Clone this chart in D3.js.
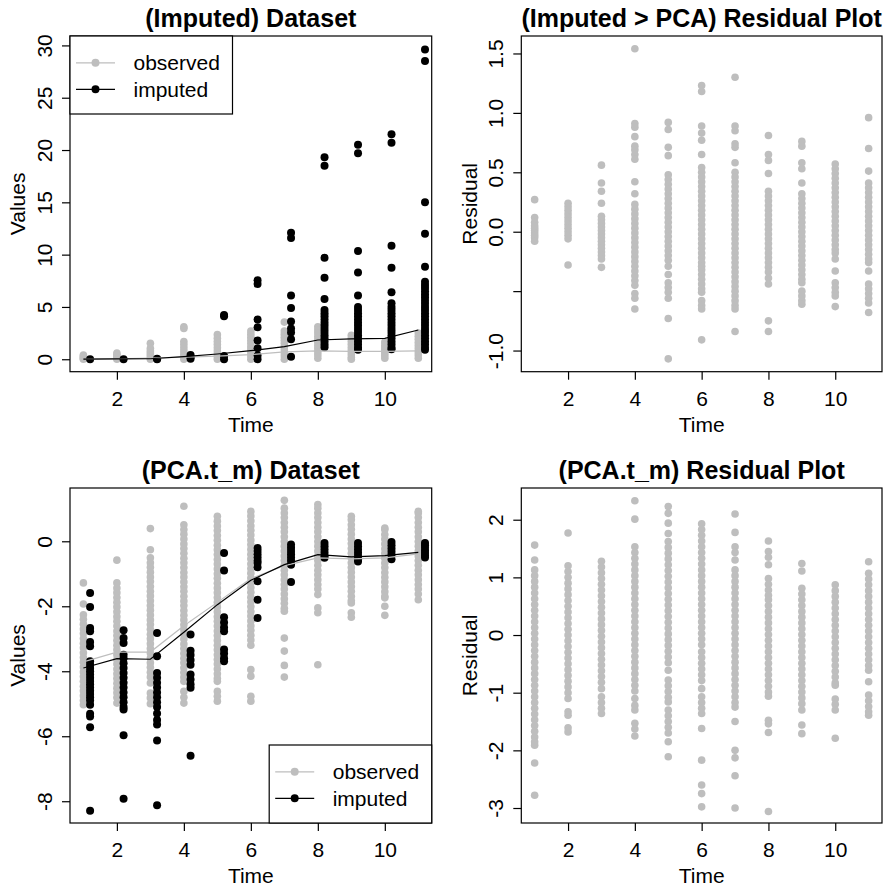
<!DOCTYPE html>
<html>
<head>
<meta charset="utf-8">
<script src="https://cdn.jsdelivr.net/npm/d3@7"></script>
<style>body{margin:0;background:#fff;}</style>
</head>
<body>
<script>
// time points and axis ticks
var timePoints = [1,2,3,4,5,6,7,8,9,10,11];
var xTicks = [2,4,6,8,10];
var imputedShift = 0.2;
var legendLabels = ["observed","imputed"];

// (Imputed) Dataset
var impObserved = [
  [0.0,0.1,0.2,0.3,0.4],
  [0.0,0.15,0.3,0.45,0.6],
  [1.53,1.05,0.8,0.6,0.4,0.2,0.0],
  [3.1,2.95,1.7,1.4,1.1,0.8,0.5,0.25,0.0],
  [2.35,2.0,1.7,1.4,1.1,0.8,0.5,0.25,0.0],
  [2.7,2.4,2.1,1.8,1.5,1.2,0.9,0.6,0.3,0.0],
  [3.55,2.7,2.4,2.1,1.8,1.5,1.2,0.9,0.6,0.3,0.0],
  [3.1,2.8,2.5,2.2,1.9,1.6,1.3,1.0,0.7,0.4,0.1],
  [2.3,2.0,1.7,1.4,1.1,0.8,0.5,0.2,0.0],
  [1.65,1.35,1.1,0.85,0.6,0.35,0.1],
  [2.5,2.2,1.9,1.6,1.3,1.0,0.7,0.4,0.1]
];
var impImputed = [
  [0.0],
  [0.0],
  [0.0,0.05],
  [0.4,0.2,0.05],
  [4.23,4.1,0.3,0.0],
  [7.55,7.2,3.8,3.05,1.8,1.05,0.35,0.0],
  [12.1,11.6,6.1,4.9,3.6,2.95,2.55,1.9,0.25],
  [19.3,18.5,9.7,7.8,5.75,4.7,4.4,4.1,3.8,3.5,3.2,2.9,2.6,2.3,2.0,1.7,1.4,1.15],
  [20.5,19.7,10.35,8.3,6.1,5.0,4.7,4.4,4.1,3.8,3.5,3.2,2.9,2.6,2.3,2.0,1.7,1.4,1.1,0.9],
  [21.5,20.7,10.85,8.75,6.4,5.35,5.0,4.7,4.4,4.1,3.8,3.5,3.2,2.9,2.6,2.3,2.0,1.7,1.4,1.1,0.95],
  [29.6,28.5,15.0,12.0,8.85,7.4,7.1,6.8,6.5,6.2,5.9,5.6,5.3,5.0,4.7,4.4,4.1,3.8,3.5,3.2,2.9,2.6,2.3,2.0,1.7,1.4,1.1,0.9]
];
var impObservedMean = [0.02,0.05,0.1,0.2,0.3,0.45,0.7,0.8,0.75,0.75,0.8];
var impImputedMean = [0.02,0.03,0.05,0.25,0.5,0.82,1.2,1.84,1.94,2.0,2.8];
var impYTicks = [0,5,10,15,20,25,30];
var impYLabels = ["0","5","10","15","20","25","30"];

// (Imputed > PCA) Residual Plot
var impResidual = [
  [0.27,0.12,0.08,0.05,0.03,0.01,-0.01,-0.03,-0.05,-0.08],
  [0.24,0.21,0.18,0.15,0.12,0.09,0.06,0.03,0.0,-0.03,-0.06,-0.28],
  [0.56,0.41,0.34,0.24,0.13,0.10,0.07,0.04,0.01,-0.02,-0.05,-0.08,-0.11,-0.14,-0.17,-0.20,-0.23,-0.30],
  [1.54,0.91,0.88,0.80,0.72,0.69,0.65,0.61,0.42,0.32,0.23,0.19,0.15,0.11,0.07,0.03,-0.01,-0.05,-0.09,-0.13,-0.17,-0.21,-0.25,-0.29,-0.33,-0.37,-0.41,-0.45,-0.52,-0.56,-0.65],
  [0.92,0.86,0.71,0.64,0.48,0.44,0.40,0.36,0.32,0.28,0.24,0.20,0.16,0.12,0.08,0.04,0.0,-0.04,-0.08,-0.12,-0.16,-0.20,-0.24,-0.29,-0.36,-0.43,-0.47,-0.51,-0.56,-0.73,-1.07],
  [1.23,1.18,0.89,0.83,0.77,0.65,0.54,0.50,0.46,0.42,0.38,0.34,0.30,0.26,0.22,0.18,0.14,0.10,0.06,0.02,-0.02,-0.06,-0.10,-0.14,-0.18,-0.22,-0.26,-0.29,-0.32,-0.36,-0.40,-0.44,-0.48,-0.51,-0.58,-0.62,-0.65,-0.91],
  [1.30,0.89,0.85,0.74,0.71,0.58,0.50,0.46,0.42,0.38,0.34,0.30,0.26,0.22,0.18,0.14,0.10,0.06,0.02,-0.02,-0.06,-0.10,-0.14,-0.18,-0.22,-0.26,-0.30,-0.34,-0.38,-0.42,-0.46,-0.50,-0.54,-0.58,-0.62,-0.65,-0.84],
  [0.81,0.65,0.60,0.49,0.34,0.30,0.26,0.22,0.18,0.14,0.10,0.06,0.02,-0.02,-0.06,-0.10,-0.14,-0.18,-0.22,-0.26,-0.30,-0.34,-0.39,-0.44,-0.75,-0.84],
  [0.76,0.72,0.58,0.53,0.41,0.32,0.28,0.24,0.20,0.16,0.12,0.08,0.04,0.0,-0.04,-0.08,-0.12,-0.16,-0.20,-0.24,-0.28,-0.32,-0.36,-0.40,-0.43,-0.50,-0.54,-0.58,-0.61],
  [0.57,0.53,0.49,0.45,0.41,0.37,0.33,0.29,0.25,0.21,0.17,0.13,0.09,0.05,0.01,-0.03,-0.07,-0.11,-0.15,-0.18,-0.23,-0.33,-0.43,-0.47,-0.51,-0.54,-0.63],
  [0.96,0.70,0.51,0.41,0.37,0.33,0.29,0.25,0.21,0.17,0.13,0.09,0.05,0.01,-0.03,-0.07,-0.11,-0.15,-0.19,-0.23,-0.26,-0.33,-0.44,-0.48,-0.52,-0.56,-0.60,-0.68]
];
var resid1YTicks = [-1,-0.5,0,0.5,1,1.5];
var resid1YLabels = ["-1.0","","0.0","0.5","1.0","1.5"];

// (PCA.t_m) Dataset
var pcaObserved = [
  [-1.28,-1.93,-2.26,-2.40,-2.55,-2.70,-2.84,-2.99,-3.14,-3.28,-3.43,-3.58,-3.72,-3.87,-4.02,-4.16,-4.31,-4.46,-4.60,-4.75,-4.90,-5.03],
  [-0.58,-1.28,-1.44,-1.58,-1.73,-1.88,-2.02,-2.17,-2.32,-2.46,-2.61,-2.76,-2.90,-3.05,-3.20,-3.34,-3.49,-3.64,-3.78,-3.93,-4.08,-4.22,-4.37,-4.52,-4.66,-4.81,-4.98],
  [0.39,-0.26,-0.51,-0.66,-0.80,-0.95,-1.10,-1.24,-1.39,-1.54,-1.68,-1.83,-1.98,-2.12,-2.27,-2.42,-2.56,-2.71,-2.86,-3.00,-3.15,-3.30,-3.44,-3.59,-3.74,-3.88,-4.03,-4.18,-4.36,-4.67,-4.82,-5.00],
  [1.08,0.51,0.36,0.22,0.07,-0.08,-0.22,-0.37,-0.52,-0.66,-0.81,-0.96,-1.10,-1.25,-1.40,-1.54,-1.69,-1.84,-1.98,-2.13,-2.28,-2.42,-2.57,-2.72,-2.86,-3.01,-3.16,-3.30,-3.45,-3.60,-3.74,-3.89,-4.04,-4.18,-4.31,-4.62,-4.80,-4.98],
  [0.77,0.62,0.47,0.33,0.18,0.03,-0.12,-0.26,-0.41,-0.56,-0.70,-0.85,-1.00,-1.14,-1.29,-1.44,-1.58,-1.73,-1.88,-2.02,-2.17,-2.32,-2.46,-2.61,-2.76,-2.90,-3.05,-3.20,-3.34,-3.49,-3.64,-3.78,-3.93,-4.08,-4.22,-4.31,-4.62,-4.77,-4.92],
  [0.92,0.78,0.63,0.48,0.34,0.19,0.04,-0.10,-0.25,-0.40,-0.54,-0.69,-0.84,-0.98,-1.13,-1.28,-1.42,-1.57,-1.72,-1.86,-2.01,-2.16,-2.30,-2.45,-2.60,-2.74,-2.89,-3.04,-3.20,-3.95,-4.15,-4.77,-4.92],
  [1.26,1.02,0.87,0.73,0.58,0.43,0.29,0.14,-0.01,-0.15,-0.30,-0.45,-0.59,-0.74,-0.89,-1.03,-1.18,-1.33,-1.47,-1.62,-1.77,-1.91,-2.06,-2.15,-2.98,-3.38,-3.82,-4.18],
  [1.13,1.02,0.87,0.73,0.58,0.43,0.29,0.14,-0.01,-0.15,-0.30,-0.45,-0.59,-0.74,-0.89,-1.03,-1.18,-1.33,-1.47,-1.64,-2.05,-2.2,-3.80],
  [0.77,0.66,0.51,0.37,0.22,0.07,-0.07,-0.22,-0.37,-0.51,-0.66,-0.81,-0.95,-1.10,-1.25,-1.39,-1.54,-1.69,-1.83,-1.90,-2.2,-2.34],
  [0.41,0.36,0.21,0.07,-0.08,-0.23,-0.37,-0.52,-0.67,-0.81,-0.96,-1.11,-1.25,-1.40,-1.55,-1.69,-1.74,-2.00,-2.28],
  [0.92,0.87,0.73,0.58,0.43,0.29,0.14,-0.01,-0.15,-0.30,-0.45,-0.59,-0.74,-0.89,-1.03,-1.18,-1.33,-1.47,-1.62,-1.80]
];
var pcaImputed = [
  [-1.59,-2.02,-2.67,-2.77,-3.10,-3.23,-3.69,-3.80,-3.90,-4.0,-4.1,-4.2,-4.3,-4.4,-4.5,-4.6,-4.7,-4.8,-4.9,-5.03,-5.31,-5.39,-5.72,-8.29],
  [-2.74,-2.98,-3.13,-3.49,-3.6,-3.75,-3.9,-4.05,-4.2,-4.35,-4.5,-4.65,-4.8,-4.95,-5.1,-5.18,-5.97,-7.92],
  [-2.82,-3.54,-4.05,-4.2,-4.35,-4.5,-4.65,-4.8,-4.95,-5.1,-5.3,-5.5,-5.64,-6.13,-8.12],
  [-2.87,-3.37,-3.5,-3.65,-3.8,-4.10,-4.25,-4.4,-4.51,-6.60],
  [-0.36,-0.90,-2.34,-2.5,-2.65,-2.77,-3.33,-3.45,-3.6,-3.69],
  [-0.21,-0.3,-0.4,-0.5,-0.6,-0.67,-0.8,-1.23,-1.80,-2.36],
  [-0.10,-0.2,-0.3,-0.4,-0.5,-0.6,-0.72,-1.25],
  [-0.05,-0.15,-0.25,-0.35,-0.45,-0.51],
  [-0.05,-0.15,-0.25,-0.35,-0.45,-0.55,-0.62],
  [-0.02,-0.12,-0.22,-0.32,-0.42,-0.55],
  [-0.05,-0.12,-0.2,-0.28,-0.36,-0.44,-0.5]
];
var pcaObservedMean = [-3.71,-3.41,-3.41,-2.6,-1.88,-1.15,-0.75,-0.51,-0.54,-0.51,-0.39];
var pcaImputedMean = [-3.90,-3.61,-3.63,-2.8,-1.95,-1.2,-0.72,-0.41,-0.48,-0.44,-0.34];
var pcaYTicks = [-8,-6,-4,-2,0];
var pcaYLabels = ["-8","-6","-4","-2","0"];

// (PCA.t_m) Residual Plot
var pcaResidual = [
  [1.56,1.30,1.13,1.03,0.93,0.83,0.73,0.63,0.53,0.43,0.33,0.23,0.13,0.03,-0.07,-0.17,-0.27,-0.37,-0.47,-0.57,-0.67,-0.77,-0.87,-0.97,-1.07,-1.17,-1.27,-1.37,-1.47,-1.57,-1.67,-1.77,-1.85,-1.91,-2.22,-2.78],
  [1.77,1.20,1.10,1.00,0.90,0.80,0.70,0.60,0.50,0.40,0.30,0.20,0.10,0.0,-0.10,-0.20,-0.30,-0.40,-0.50,-0.60,-0.70,-0.80,-0.90,-1.00,-1.10,-1.33,-1.39,-1.61,-1.68],
  [1.28,1.18,1.08,0.98,0.88,0.78,0.68,0.58,0.48,0.38,0.28,0.18,0.08,-0.02,-0.12,-0.22,-0.32,-0.42,-0.52,-0.62,-0.72,-0.82,-0.93,-1.07,-1.17,-1.27,-1.36],
  [2.33,2.01,1.53,1.43,1.33,1.23,1.13,1.03,0.93,0.83,0.73,0.63,0.53,0.43,0.33,0.23,0.13,0.03,-0.07,-0.17,-0.27,-0.37,-0.47,-0.57,-0.67,-0.77,-0.87,-0.97,-1.10,-1.22,-1.30,-1.53,-1.63,-1.75],
  [2.23,2.11,1.94,1.76,1.62,1.52,1.42,1.32,1.22,1.12,1.02,0.92,0.82,0.72,0.62,0.52,0.42,0.32,0.22,0.12,0.02,-0.08,-0.18,-0.28,-0.38,-0.48,-0.61,-0.78,-0.88,-0.98,-1.08,-1.16,-1.30,-1.40,-1.50,-1.60,-1.70,-1.85,-2.11],
  [1.93,1.83,1.73,1.63,1.53,1.43,1.33,1.23,1.13,1.03,0.93,0.83,0.73,0.63,0.53,0.43,0.33,0.23,0.13,0.03,-0.07,-0.17,-0.29,-0.39,-0.49,-0.59,-0.69,-0.79,-0.93,-1.07,-1.17,-1.27,-1.36,-1.62,-2.17,-2.60,-2.75,-2.98],
  [2.10,1.78,1.53,1.43,1.30,1.13,1.03,0.93,0.83,0.73,0.63,0.53,0.43,0.33,0.23,0.13,0.03,-0.07,-0.17,-0.27,-0.37,-0.47,-0.57,-0.67,-0.77,-0.87,-0.97,-1.07,-1.17,-1.25,-1.50,-2.00,-2.13,-2.44,-3.00],
  [1.63,1.45,1.35,1.22,0.98,0.88,0.78,0.69,0.61,0.51,0.41,0.31,0.21,0.11,0.01,-0.09,-0.19,-0.29,-0.39,-0.49,-0.59,-0.69,-0.79,-0.89,-0.99,-1.06,-1.48,-1.54,-1.69,-3.06],
  [1.24,1.11,0.81,0.71,0.61,0.51,0.41,0.31,0.21,0.11,0.01,-0.09,-0.19,-0.29,-0.39,-0.49,-0.59,-0.69,-0.79,-0.89,-0.99,-1.09,-1.19,-1.30,-1.56,-1.71],
  [0.87,0.77,0.67,0.57,0.47,0.37,0.27,0.17,0.07,-0.03,-0.13,-0.23,-0.33,-0.43,-0.53,-0.63,-0.73,-0.83,-0.87,-1.11,-1.20,-1.30,-1.79],
  [1.27,1.07,0.97,0.87,0.77,0.67,0.57,0.47,0.37,0.27,0.17,0.07,-0.03,-0.13,-0.23,-0.33,-0.43,-0.53,-0.61,-0.81,-1.04,-1.14,-1.24,-1.33,-1.39]
];
var resid2YTicks = [-3,-2,-1,0,1,2];
var resid2YLabels = ["-3","-2","-1","0","1","2"];

var grey = "#bebebe";
var fontFam = "'Liberation Sans', Arial, Helvetica, sans-serif";

var svg = d3.select("body").append("svg")
    .attr("width", 885).attr("height", 886)
    .style("font-family", fontFam);
svg.append("rect").attr("width", 885).attr("height", 886).attr("fill", "#fff");

//flatten columns into [time, value] pairs
function flatten(cols, shift){
    var out = [];
    cols.forEach(function(col, i){
	col.forEach(function(v){ out.push([timePoints[i] + shift, v]); });
    });
    return out;
}

function drawPanel(p){
    var x = d3.scaleLinear().domain([0.6, 11.4]).range([p.left, p.right]);
    var y = d3.scaleLinear().domain(p.yDomain).range([p.bottom, p.top]);
    var g = svg.append("g");

    g.selectAll(null).data(flatten(p.observed, 0)).enter().append("circle")
	.attr("cx", function(d){ return x(d[0]); })
	.attr("cy", function(d){ return y(d[1]); })
	.attr("r", 3.8).attr("fill", grey);

    if(p.imputed){
	g.selectAll(null).data(flatten(p.imputed, imputedShift)).enter().append("circle")
	    .attr("cx", function(d){ return x(d[0]); })
	    .attr("cy", function(d){ return y(d[1]); })
	    .attr("r", 4).attr("fill", "#000");

	var line = d3.line()
	    .x(function(d, i){ return x(timePoints[i]); })
	    .y(function(d){ return y(d); });
	g.append("path").attr("d", line(p.observedMean))
	    .attr("fill", "none").attr("stroke", grey).attr("stroke-width", 1.2);
	g.append("path").attr("d", line(p.imputedMean))
	    .attr("fill", "none").attr("stroke", "#000").attr("stroke-width", 1.2);
    }

    g.append("rect")
	.attr("x", p.left).attr("y", p.top)
	.attr("width", p.right - p.left).attr("height", p.bottom - p.top)
	.attr("fill", "none").attr("stroke", "#000").attr("stroke-width", 1.2);

    var xa = g.append("g").attr("transform", "translate(0," + p.bottom + ")")
	.call(d3.axisBottom(x).tickValues(xTicks).tickSize(8).tickFormat(d3.format("d")));
    xa.select(".domain").remove();
    xa.attr("font-size", 21).attr("font-family", fontFam);
    xa.selectAll("line").attr("stroke", "#000").attr("stroke-width", 1.2);
    xa.selectAll("text").attr("y", 34).attr("dy", null).attr("fill", "#000");

    var ya = g.append("g").attr("transform", "translate(" + p.left + ",0)")
	.call(d3.axisLeft(y).tickValues(p.yTicks).tickSize(8)
	      .tickFormat(function(d, i){ return p.yLabels[i]; }));
    ya.select(".domain").remove();
    ya.attr("font-size", 21).attr("font-family", fontFam);
    ya.selectAll("line").attr("stroke", "#000").attr("stroke-width", 1.2);
    ya.selectAll("text").attr("x", null).attr("dy", null)
	.attr("text-anchor", "middle").attr("fill", "#000")
	.attr("transform", "translate(-18.3,0) rotate(-90)");

    g.append("text")
	.attr("x", (p.left + p.right)/2).attr("y", p.top - 9.5)
	.attr("text-anchor", "middle").attr("font-size", 25).attr("font-weight", "bold")
	.text(p.title);
    g.append("text")
	.attr("x", (p.left + p.right)/2).attr("y", p.bottom + 60)
	.attr("text-anchor", "middle").attr("font-size", 21)
	.text("Time");
    g.append("text")
	.attr("transform", "translate(" + (p.left - p.ylabOff) + "," + (p.top + p.bottom)/2 + ") rotate(-90)")
	.attr("text-anchor", "middle").attr("font-size", 21)
	.text(p.yLabel);
}

//legend box with observed / imputed entries
function drawLegend(x0, y0){
    var lg = svg.append("g").attr("transform", "translate(" + x0 + "," + y0 + ")");
    lg.append("rect").attr("width", 162.5).attr("height", 78)
	.attr("fill", "#fff").attr("stroke", "#000").attr("stroke-width", 1.2);
    var cols = [grey, "#000"];
    legendLabels.forEach(function(lab, i){
	var ry = 26.8 + i*26.5;
	lg.append("line").attr("x1", 6).attr("x2", 45).attr("y1", ry).attr("y2", ry)
	    .attr("stroke", cols[i]).attr("stroke-width", 1.2);
	lg.append("circle").attr("cx", 25.5).attr("cy", ry).attr("r", 4).attr("fill", cols[i]);
	lg.append("text").attr("x", 63.5).attr("y", ry + 7.5).attr("font-size", 21).text(lab);
    });
}

drawPanel({left: 70, right: 431.7, top: 36, bottom: 371.7, yDomain: [-1.19, 30.9],
	   observed: impObserved, imputed: impImputed,
	   observedMean: impObservedMean, imputedMean: impImputedMean,
	   yTicks: impYTicks, yLabels: impYLabels,
	   title: "(Imputed) Dataset", yLabel: "Values", ylabOff: 45});
drawLegend(70, 36);

drawPanel({left: 521.3, right: 882, top: 36, bottom: 371.7, yDomain: [-1.178, 1.647],
	   observed: impResidual,
	   yTicks: resid1YTicks, yLabels: resid1YLabels,
	   title: "(Imputed > PCA) Residual Plot", yLabel: "Residual", ylabOff: 44});

drawPanel({left: 70, right: 431.7, top: 488, bottom: 823, yDomain: [-8.67, 1.64],
	   observed: pcaObserved, imputed: pcaImputed,
	   observedMean: pcaObservedMean, imputedMean: pcaImputedMean,
	   yTicks: pcaYTicks, yLabels: pcaYLabels,
	   title: "(PCA.t_m) Dataset", yLabel: "Values", ylabOff: 45});
drawLegend(269.2, 745);

drawPanel({left: 521.3, right: 882, top: 488, bottom: 823, yDomain: [-3.26, 2.55],
	   observed: pcaResidual,
	   yTicks: resid2YTicks, yLabels: resid2YLabels,
	   title: "(PCA.t_m) Residual Plot", yLabel: "Residual", ylabOff: 44});
</script>
</body>
</html>
